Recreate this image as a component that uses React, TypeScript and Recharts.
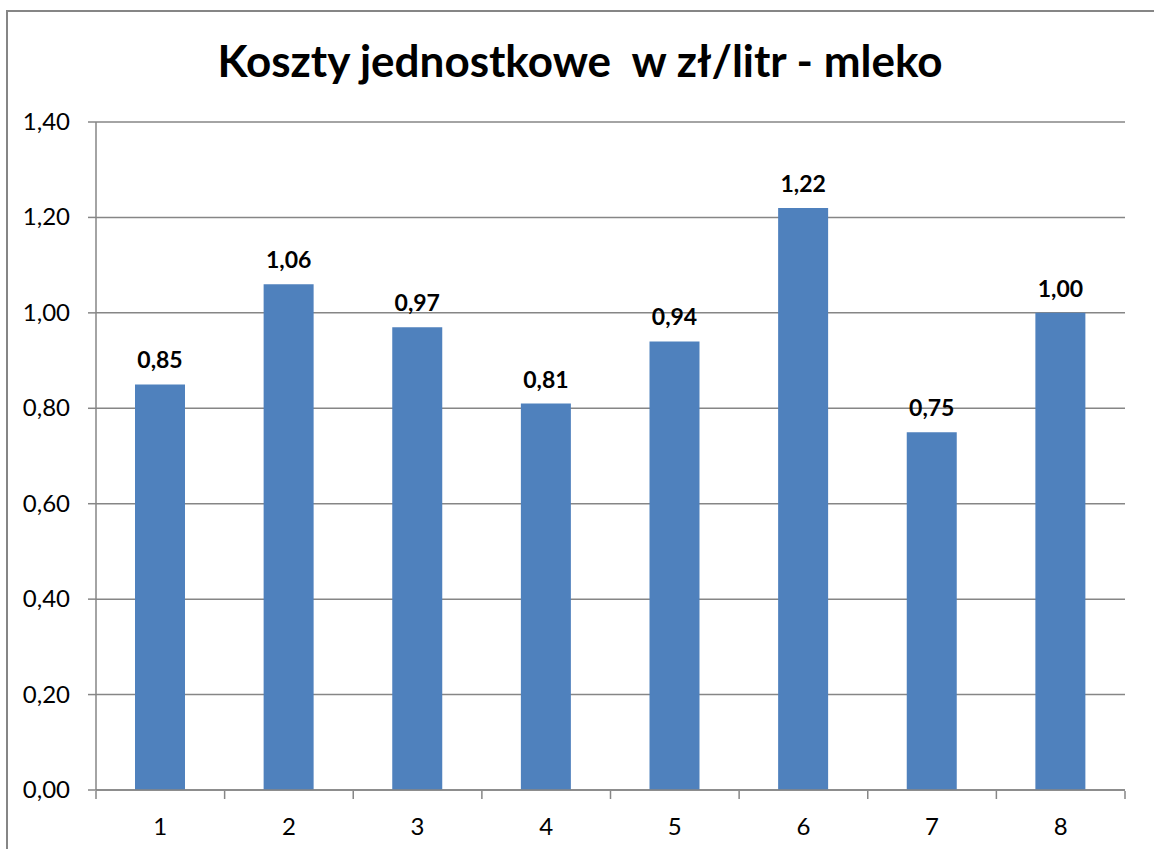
import React from "react"
import { BarChart, Bar, XAxis, YAxis, CartesianGrid, LabelList } from "recharts"

const categories = ["1", "2", "3", "4", "5", "6", "7", "8"]
const costs = [0.85, 1.06, 0.97, 0.81, 0.94, 1.22, 0.75, 1.0]
const yTicks = [0, 0.2, 0.4, 0.6, 0.8, 1.0, 1.2, 1.4]
const boundaryTicks = [0, 1, 2, 3, 4, 5, 6, 7, 8]

const data = categories.map((name, i) => ({ name, value: costs[i], pos: i + 0.5 }))

const fmt = (v: number) => v.toFixed(2).replace(".", ",")
const font = "Lato, 'Open Sans', sans-serif"
const gray = "#868686"

const YTick = ({ x, y, payload }: any) => (
  <text x={x} y={y} dy={8} textAnchor="end" fontSize={24} fontFamily={font} fill="#000">
    {fmt(payload.value)}
  </text>
)

const XTick = ({ x, y, payload }: any) => (
  <text x={x} y={y} dy={19} textAnchor="middle" fontSize={24} fontFamily={font} fill="#000">
    {payload.value}
  </text>
)

export default function App() {
  return (
    <div style={{ position: "absolute", left: 0, top: 0, width: 1154, height: 849, background: "#fff", overflow: "hidden", fontFamily: font }}>
      <div style={{ position: "absolute", left: 6, top: 10, width: 1160, height: 900, border: `2px solid ${gray}`, boxSizing: "border-box" }} />
      <div style={{ position: "absolute", left: 0, top: 34, width: 1160, textAlign: "center", fontSize: 44, fontWeight: 700, color: "#000" }}>
        Koszty jednostkowe&nbsp; w zł/litr - mleko
      </div>
      <div style={{ position: "absolute", left: 0, top: 0 }}>
        <BarChart width={1154} height={849} data={data} margin={{ top: 122, right: 29, left: 0, bottom: 0 }}>
          <CartesianGrid vertical={false} stroke={gray} strokeWidth={1.5} />
          <XAxis xAxisId="cat" dataKey="name" axisLine={{ stroke: gray, strokeWidth: 1.5 }} tickLine={false} tick={<XTick />} tickMargin={20} height={1} />
          <XAxis xAxisId="edges" type="number" dataKey="pos" domain={[0, 8]} ticks={boundaryTicks} tickFormatter={() => ""} axisLine={false} tickLine={{ stroke: gray, strokeWidth: 1.5 }} tickSize={8} height={58} />
          <YAxis domain={[0, 1.4]} ticks={yTicks} width={96} axisLine={{ stroke: gray, strokeWidth: 1.5 }} tickLine={{ stroke: gray, strokeWidth: 1.5 }} tickSize={8} tickMargin={18} tick={<YTick />} interval={0} />
          <Bar xAxisId="cat" dataKey="value" fill="#4F81BD" barSize={50} isAnimationActive={false}>
            <LabelList dataKey="value" position="top" offset={16} formatter={(v: any) => fmt(Number(v))} style={{ fill: "#000", fontSize: 23, fontWeight: 700, fontFamily: font }} />
          </Bar>
        </BarChart>
      </div>
    </div>
  )
}
